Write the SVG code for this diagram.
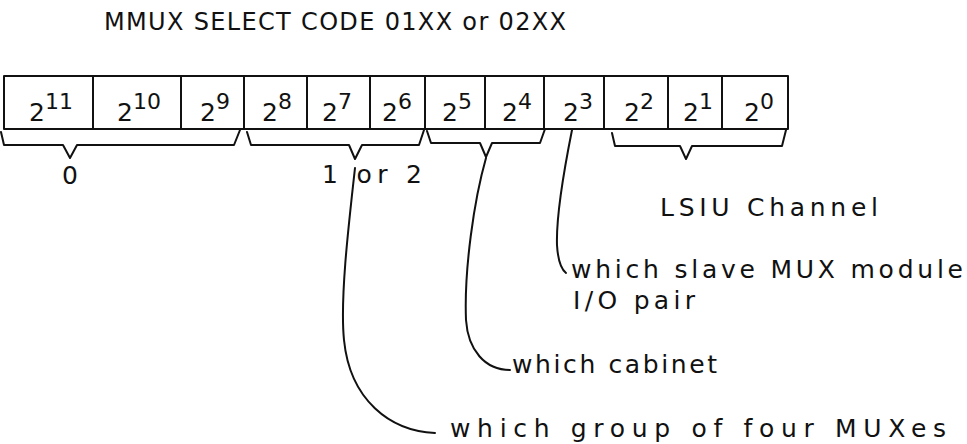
<svg xmlns="http://www.w3.org/2000/svg" width="967" height="444" viewBox="0 0 967 444">
<style>
text{font-family:"DejaVu Sans","Liberation Sans",sans-serif;fill:#111;}
.t{font-size:25px;}
.h{font-size:24px;}
.c{font-size:25px;text-anchor:middle;}
.sup{font-size:22px;}
.ln{fill:none;stroke:#111;stroke-width:2;stroke-linecap:round;stroke-linejoin:round;}
</style>
<rect width="967" height="444" fill="#fff"/>
<g id="title"><text class="h" x="104" y="30" textLength="462" lengthAdjust="spacing">MMUX SELECT CODE 01XX or 02XX</text></g>
<g id="register">
<rect class="ln" x="4" y="76" width="784" height="53"/>
<path class="ln" d="M93,76V129M181,76V129M244,76V129M307,76V129M370,76V129M425,76V129M485,76V129M544,76V129M604,76V129M668,76V129M722,76V129"/>
<text class="c" x="51" y="121">2<tspan class="sup" dy="-12">11</tspan></text>
<text class="c" x="139" y="121">2<tspan class="sup" dy="-12">10</tspan></text>
<text class="c" x="215" y="121">2<tspan class="sup" dy="-12">9</tspan></text>
<text class="c" x="277" y="121">2<tspan class="sup" dy="-12">8</tspan></text>
<text class="c" x="337" y="121">2<tspan class="sup" dy="-12">7</tspan></text>
<text class="c" x="397" y="121">2<tspan class="sup" dy="-12">6</tspan></text>
<text class="c" x="457" y="121">2<tspan class="sup" dy="-12">5</tspan></text>
<text class="c" x="517" y="121">2<tspan class="sup" dy="-12">4</tspan></text>
<text class="c" x="578" y="121">2<tspan class="sup" dy="-12">3</tspan></text>
<text class="c" x="639" y="121">2<tspan class="sup" dy="-12">2</tspan></text>
<text class="c" x="698" y="121">2<tspan class="sup" dy="-12">1</tspan></text>
<text class="c" x="759" y="121">2<tspan class="sup" dy="-12">0</tspan></text>
</g>
<g id="braces">
<path class="ln" d="M1,132 L4,145 L63,145 L70,158 L77,145 L234,145 L240,130"/>
<path class="ln" d="M247,132 L251,145 L349,145 L355,159 L362,145 L419,145 L424,130"/>
<path class="ln" d="M427,131 L431,143 L480,143 L486,157 L492,143 L540,143 L545,129"/>
<path class="ln" d="M612,133 L615,146 L680,146 L686,159 L692,146 L782,146 L786,130"/>
</g>
<g id="brace-labels">
<text class="c" x="70" y="184">0</text>
<text class="t" x="322" y="183" textLength="100" lengthAdjust="spacing">1 or 2</text>
<text class="t" x="660" y="216" textLength="218" lengthAdjust="spacing">LSIU Channel</text>
</g>
<g id="connectors">
<path class="ln" d="M355,168 C348,230 340,300 344,340 C350,400 390,431 435,433"/>
<path class="ln" d="M486,158 C474,200 464,270 466,320 C468,350 485,370 510,370"/>
<path class="ln" d="M572,130 C564,170 556,215 557,245 C558,262 561,269 566,273"/>
</g>
<g id="annotations">
<text class="t" x="571" y="278" textLength="392" lengthAdjust="spacing">which slave MUX module</text>
<text class="t" x="573" y="309" textLength="122" lengthAdjust="spacing">I/O pair</text>
<text class="t" x="512" y="373" textLength="205" lengthAdjust="spacing">which cabinet</text>
<text class="t" x="450" y="437" textLength="496" lengthAdjust="spacing">which group of four MUXes</text>
</g>
</svg>
